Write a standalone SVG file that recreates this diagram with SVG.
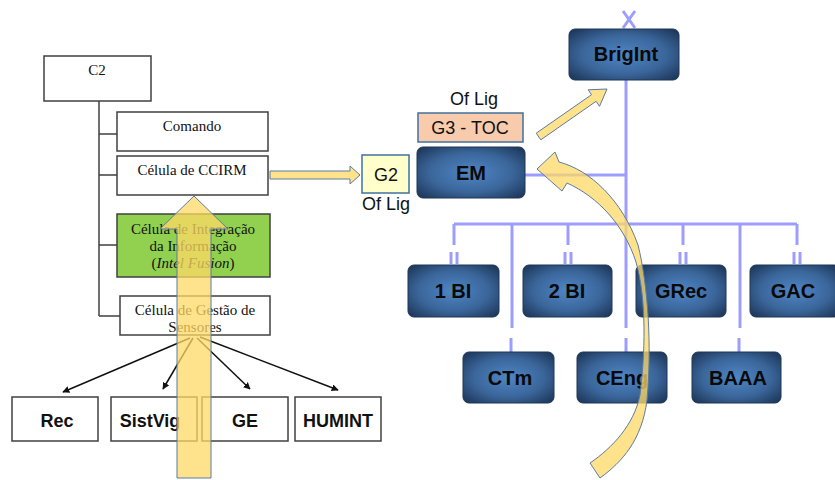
<svg xmlns="http://www.w3.org/2000/svg" width="835" height="480" viewBox="0 0 835 480">
<style>
.wbox{fill:#fff;stroke:#404040;stroke-width:1.5}
.tree{fill:none;stroke:#404040;stroke-width:1.5}
.ser{font-family:"Liberation Serif",serif;font-size:15px;fill:#111;text-anchor:middle}
.bb{font-family:"Liberation Sans",Arial,sans-serif;font-size:18px;font-weight:bold;fill:#111;text-anchor:middle}
.bd{font-family:"Liberation Sans",Arial,sans-serif;font-size:20px;font-weight:bold;fill:#0a0a0a;text-anchor:middle}
.cal{font-family:"Liberation Sans",Arial,sans-serif;font-size:18px;fill:#111;text-anchor:middle}
.dark{fill:url(#dg);stroke:#1e3656;stroke-width:1}
.bus{fill:none;stroke:#9d9dff;stroke-width:3}
.blk{stroke:#111;stroke-width:1.5;fill:none;marker-end:url(#ah)}
.yarr{fill:#ffd966;fill-opacity:0.75;stroke:#5b7ba3;stroke-width:1}
</style>
<defs>
<radialGradient id="dg" cx="50%" cy="50%" r="65%">
<stop offset="0" stop-color="#4f86c6"/>
<stop offset="0.6" stop-color="#3a6599"/>
<stop offset="1" stop-color="#1f3a5e"/>
</radialGradient>
<marker id="ah" viewBox="0 0 10 10" refX="9" refY="5" markerWidth="7" markerHeight="7" orient="auto" markerUnits="userSpaceOnUse">
<path d="M0,0 L10,5 L0,10 Z" fill="#111"/>
</marker>
</defs>

<!-- left tree connectors -->
<g id="left-connectors">
<path class="tree" d="M99,101 V316 M99,134 H117 M99,175 H117 M99,245 H117 M99,316 H120"/>
<line class="blk" x1="190" y1="338" x2="63" y2="392"/>
<line class="blk" x1="193" y1="338" x2="163" y2="389"/>
<line class="blk" x1="197" y1="338" x2="250" y2="389"/>
<line class="blk" x1="200" y1="337" x2="338" y2="390"/>
</g>

<g id="c2"><rect class="wbox" x="44" y="56" width="107" height="45"/><text class="ser" x="97" y="75">C2</text></g>
<g id="comando"><rect class="wbox" x="117" y="112" width="151" height="39"/><text class="ser" x="192" y="131">Comando</text></g>
<g id="ccirm"><rect class="wbox" x="117" y="156" width="151" height="39"/><text class="ser" x="192" y="175">Célula de CCIRM</text></g>
<g id="fusion"><rect x="117" y="214" width="153" height="63" fill="#92d050" stroke="#404040" stroke-width="1.5"/>
<text class="ser" x="193" y="234">Célula de Integração</text>
<text class="ser" x="193" y="251">da Informação</text>
<text class="ser" x="193" y="268">(<tspan font-style="italic">Intel Fusion</tspan>)</text></g>
<g id="gestao"><rect class="wbox" x="120" y="296" width="150" height="39"/>
<text class="ser" x="195" y="315">Célula de Gestão de</text>
<text class="ser" x="195" y="332">Sensores</text></g>

<g id="rec"><rect class="wbox" x="12" y="397" width="86" height="44"/><text class="bb" x="57" y="427">Rec</text></g>
<g id="sistvig"><rect class="wbox" x="111" y="397" width="86" height="44"/><text class="bb" x="150" y="427">SistVig</text></g>
<g id="ge"><rect class="wbox" x="202" y="397" width="86" height="44"/><text class="bb" x="245" y="427">GE</text></g>
<g id="humint"><rect class="wbox" x="295" y="397" width="86" height="44"/><text class="bb" x="338" y="427">HUMINT</text></g>

<!-- big upward arrow -->
<g id="up-arrow"><path class="yarr" d="M177,478 V229 H160 L194,196 L228,229 H211 V478 Z"/></g>

<!-- CCIRM to G2 arrow -->
<g id="ccirm-g2-arrow"><path class="yarr" fill-opacity="1" d="M270,171 H350 V166 L360,175 L350,184 V179 H270 Z"/></g>

<!-- right org chart connectors -->
<g id="right-connectors">
<path class="bus" d="M623,11 L635,28 M635,11 L623,28"/>
<path class="bus" d="M626,80 V328 M525,175 H626 M454,224 H797"/>
<path class="bus" d="M454,224 V245 M512,224 V328 M568,224 V245 M683,224 V245 M740,224 V328 M797,224 V245"/>
<path class="bus" d="M451,252 V264 M457,252 V264 M565,252 V264 M571,252 V264 M680,252 V264 M686,252 V264 M794,252 V264 M800,252 V264"/>
<path class="bus" d="M511,338 V352 M626,338 V352 M739,338 V352"/>
</g>

<g id="g2"><rect x="362" y="155" width="47" height="38" fill="#ffffcc" stroke="#41719c" stroke-width="1.5"/>
<text class="cal" x="386" y="181">G2</text>
<text class="cal" x="386" y="210">Of Lig</text></g>
<g id="g3toc"><rect x="418" y="113" width="105" height="29" fill="#f8cbad" stroke="#41719c" stroke-width="1.5"/>
<text class="cal" x="470" y="134" font-size="17">G3 - TOC</text>
<text class="cal" x="474" y="105">Of Lig</text></g>
<g id="em"><rect class="dark" x="417" y="147" width="108" height="51" rx="6"/><text class="bd" x="471" y="180">EM</text></g>
<g id="brigint"><rect class="dark" x="569" y="29" width="110" height="51" rx="6"/><text class="bd" x="626" y="61">BrigInt</text></g>
<g id="bi1"><rect class="dark" x="408" y="265" width="91" height="52" rx="6"/><text class="bd" x="453" y="298">1 BI</text></g>
<g id="bi2"><rect class="dark" x="523" y="265" width="89" height="52" rx="6"/><text class="bd" x="567" y="298">2 BI</text></g>
<g id="grec"><rect class="dark" x="636" y="265" width="90" height="52" rx="6"/><text class="bd" x="681" y="298">GRec</text></g>
<g id="gac"><rect class="dark" x="750" y="265" width="90" height="52" rx="6"/><text class="bd" x="793" y="298">GAC</text></g>
<g id="ctm"><rect class="dark" x="463" y="352" width="91" height="51" rx="6"/><text class="bd" x="510" y="385">CTm</text></g>
<g id="ceng"><rect class="dark" x="577" y="352" width="90" height="51" rx="6"/><text class="bd" x="622" y="385">CEng</text></g>
<g id="baaa"><rect class="dark" x="692" y="352" width="89" height="51" rx="6"/><text class="bd" x="738" y="385">BAAA</text></g>

<!-- yellow arrows on right -->
<g id="toc-brig-arrow"><path class="yarr" fill-opacity="0.9" d="M540.8,139.8 L536.2,133.2 L591.5,94.7 L588.2,89.8 L607,89 L599.5,106.3 L596.1,101.3 Z"/></g>
<g id="curved-arrow"><path class="yarr" fill="#f5cf6e" d="M537,169 L555,152 L559,162 C590,170 622,200 638,245 C648,285 652,345 647,400 C642,440 622,462 600,478 L590,463 C612,448 634,425 640,395 C645,355 647,300 636,262 C624,225 598,197 567,183 L562,191 Z"/></g>
</svg>
